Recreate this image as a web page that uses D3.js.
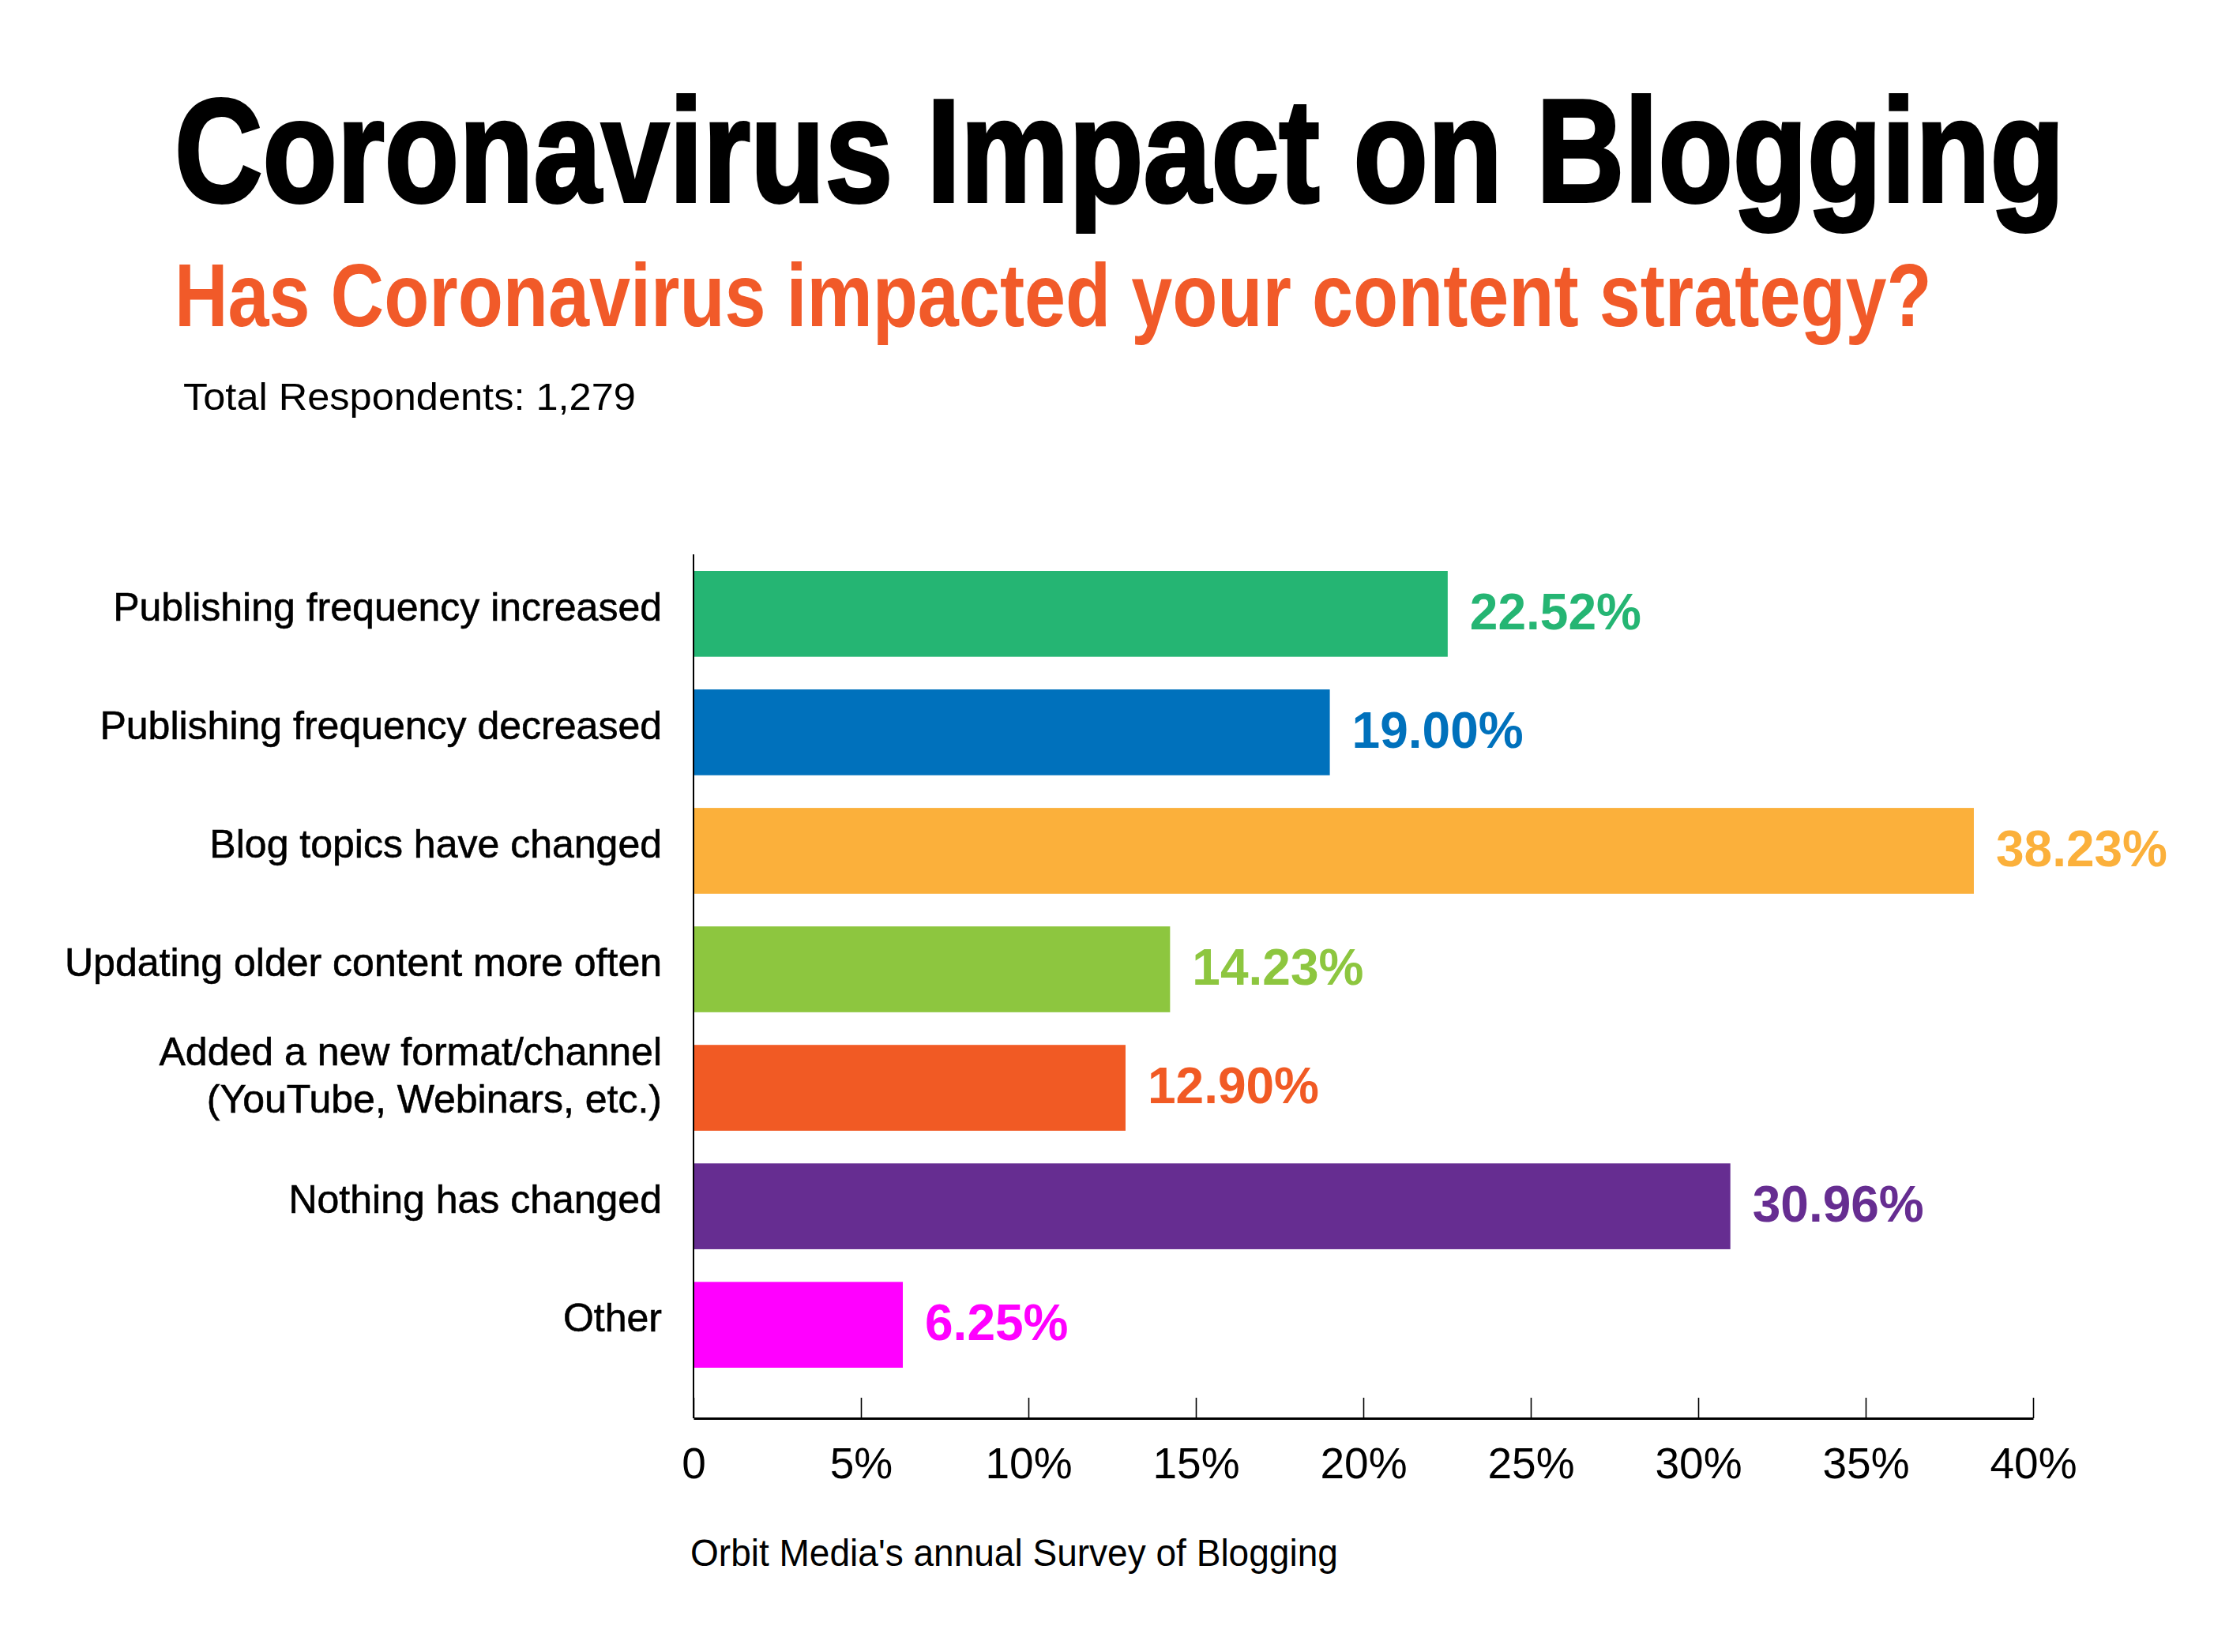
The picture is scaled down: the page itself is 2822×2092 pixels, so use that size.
<!DOCTYPE html>
<html>
<head>
<meta charset="utf-8">
<script src="https://cdn.jsdelivr.net/npm/d3@7/dist/d3.min.js"></script>
<style>
  html, body { margin: 0; padding: 0; background: #ffffff; }
  svg { display: block; }
  text { font-family: "Liberation Sans", Arial, Helvetica, sans-serif; }
</style>
</head>
<body>
<script>
// ---- Data ----
const categories = [
  ["Publishing frequency increased"],
  ["Publishing frequency decreased"],
  ["Blog topics have changed"],
  ["Updating older content more often"],
  ["Added a new format/channel", "(YouTube, Webinars, etc.)"],
  ["Nothing has changed"],
  ["Other"]
];
const values = [22.52, 19.00, 38.23, 14.23, 12.90, 30.96, 6.25];
const valueLabels = ["22.52%", "19.00%", "38.23%", "14.23%", "12.90%", "30.96%", "6.25%"];
const barColors = ["#25B573", "#0071BC", "#FBB03B", "#8DC63F", "#F15A24", "#662D91", "#FF00FF"];
const tickValues = [0, 5, 10, 15, 20, 25, 30, 35, 40];
const tickLabels = ["0", "5%", "10%", "15%", "20%", "25%", "30%", "35%", "40%"];
const titleText = "Coronavirus Impact on Blogging";
const subtitleText = "Has Coronavirus impacted your content strategy?";
const respondentsText = "Total Respondents: 1,279";
const sourceText = "Orbit Media's annual Survey of Blogging";

// ---- Layout ----
const W = 2822, H = 2092;
const svg = d3.select("body").append("svg").attr("width", W).attr("height", H);

const keys = categories.map((c, i) => "c" + i);
const x = d3.scaleLinear().domain([0, 40]).range([878, 2574]);
const y = d3.scaleBand().domain(keys).range([723, 1732]).paddingInner(0.2757).paddingOuter(0);

const axisTop = 702, axisBottom = 1796;

// Helper: draw text fitted horizontally to a target width by scaling
function fittedText(str, left, baseline, targetWidth, attrs) {
  const t = svg.append("text").attr("x", 0).attr("y", 0).text(str);
  Object.entries(attrs).forEach(([k, v]) => t.attr(k, v));
  const w = t.node().getComputedTextLength();
  const sx = targetWidth / w;
  t.attr("transform", `translate(${left},${baseline}) scale(${sx},1)`);
  return t;
}

// Titles
fittedText(titleText, 221, 255, 2393, {
  "font-size": 186, "font-weight": "bold", "fill": "#000", "stroke": "#000", "stroke-width": 4
});
fittedText(subtitleText, 221, 413, 2225, {
  "font-size": 114, "font-weight": "bold", "fill": "#F15A29"
});
fittedText(respondentsText, 232, 519, 573, {
  "font-size": 48, "fill": "#000"
});

// Bars
const rows = categories.map((c, i) => ({ key: keys[i], lines: c, v: values[i], label: valueLabels[i], color: barColors[i] }));

svg.append("g").selectAll("rect").data(rows).join("rect")
  .attr("x", x(0)).attr("y", d => y(d.key))
  .attr("width", d => x(d.v) - x(0))
  .attr("height", y.bandwidth())
  .attr("fill", d => d.color);

// Value labels
svg.append("g").selectAll("text").data(rows).join("text")
  .attr("x", d => x(d.v) + 28)
  .attr("y", d => y(d.key) + y.bandwidth() / 2 + 19.5)
  .attr("font-size", 64).attr("font-weight", "bold")
  .attr("fill", d => d.color)
  .text(d => d.label);

// Category labels
const catG = svg.append("g").selectAll("text").data(rows).join("text")
  .attr("text-anchor", "end")
  .attr("font-size", 50).attr("fill", "#000")
  .attr("stroke", "#000").attr("stroke-width", 0.6);
catG.each(function(d) {
  const cy = y(d.key) + y.bandwidth() / 2;
  const t = d3.select(this);
  if (d.lines.length === 1) {
    t.append("tspan").attr("x", 838).attr("y", cy + 8.5).text(d.lines[0]);
  } else {
    t.append("tspan").attr("x", 838).attr("y", cy - 28.5).text(d.lines[0]);
    t.append("tspan").attr("x", 838).attr("y", cy + 31.5).text(d.lines[1]);
  }
});

// Y axis line
svg.append("line")
  .attr("x1", x(0)).attr("x2", x(0))
  .attr("y1", axisTop).attr("y2", axisBottom)
  .attr("stroke", "#000").attr("stroke-width", 2);

// X axis
const xAxis = d3.axisBottom(x)
  .tickValues(tickValues)
  .tickFormat((d, i) => tickLabels[i])
  .tickSizeInner(-26).tickSizeOuter(0).tickPadding(37);

const gx = svg.append("g").attr("transform", `translate(0,${axisBottom})`).call(xAxis);
gx.select(".domain").attr("stroke", "#000").attr("stroke-width", 3);
gx.selectAll(".tick line").attr("stroke", "#000").attr("stroke-width", 1.6);
gx.selectAll(".tick text")
  .attr("font-size", 55).attr("fill", "#000")
  .attr("font-family", "'Liberation Sans', Arial, Helvetica, sans-serif");

// Source
fittedText(sourceText, 874, 1983, 820, {
  "font-size": 49, "fill": "#000"
});
</script>
</body>
</html>
